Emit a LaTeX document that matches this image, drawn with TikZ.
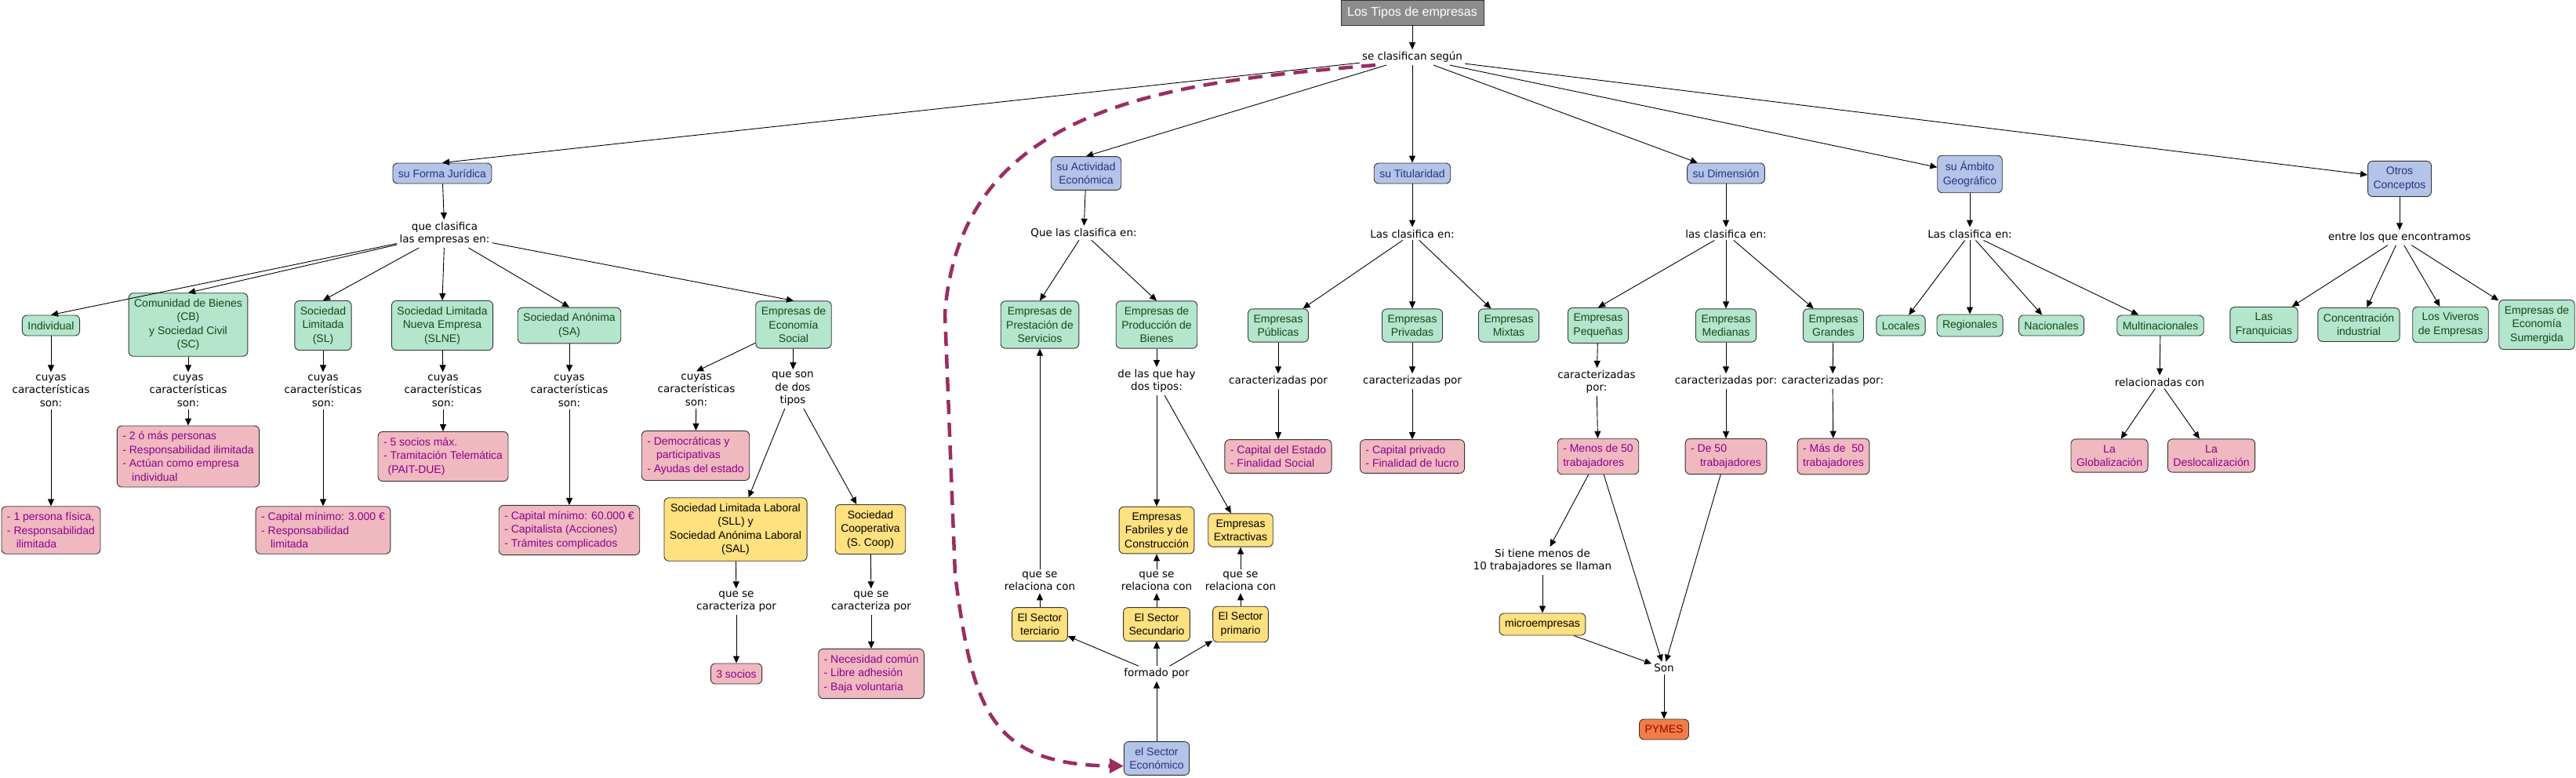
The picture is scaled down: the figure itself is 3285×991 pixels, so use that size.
\documentclass[tikz,border=0pt]{standalone}
\usepackage{fontspec}
\setmainfont{Liberation Sans}
\newfontfamily\lblfont{DejaVu Sans}
\usetikzlibrary{arrows.meta}
\definecolor{azul}{RGB}{180,195,232}
\definecolor{azultxt}{RGB}{38,52,125}
\definecolor{verde}{RGB}{180,229,205}
\definecolor{verdetxt}{RGB}{22,72,22}
\definecolor{rosa}{RGB}{240,185,192}
\definecolor{rosatxt}{RGB}{140,0,140}
\definecolor{amarillo}{RGB}{255,225,128}
\definecolor{naranja}{RGB}{241,125,70}
\definecolor{granate}{RGB}{150,0,0}
\definecolor{gris}{RGB}{140,140,140}
\definecolor{morado}{RGB}{155,45,98}
\tikzset{box/.style={draw=black!80, line width=.9pt, rounded corners=6pt, inner xsep=7pt, inner ysep=7.5pt, minimum height=26pt, align=center, font=\fontsize{14}{17.5}\selectfont}}
\tikzset{cls/.style={box, fill=azul, text=azultxt}}
\tikzset{tipo/.style={box, fill=verde, text=verdetxt}}
\tikzset{carac/.style={box, fill=rosa, text=rosatxt, align=left}}
\tikzset{sub/.style={box, fill=amarillo, text=black}}
\tikzset{pyme/.style={box, fill=naranja, text=granate}}
\tikzset{titulo/.style={draw=black!80, line width=.9pt, fill=gris, text=white, minimum width=182pt, minimum height=32pt, font=\fontsize{16}{19}\selectfont}}
\tikzset{lbl/.style={inner sep=3pt, align=center, font=\lblfont\fontsize{13.5}{16.5}\selectfont}}
\tikzset{arr/.style={-{Triangle[length=9pt,width=8pt]}, line width=.9pt}}
\tikzset{enlace/.style={draw=morado, line width=4.5pt, dash pattern=on 18pt off 11pt, -{Triangle[length=18pt,width=18pt]}}}

\begin{document}
\begin{tikzpicture}[x=1pt,y=-1pt]
  \useasboundingbox (0,0) rectangle (3285,991);
  \node[titulo] (tipos) at (1801,16) {Los Tipos de empresas};
  \node[lbl] (segun) at (1801,73) {se clasifican según};

  \node[cls] (fj) at (564,221) {su Forma Jurídica};
  \node[cls] (ae) at (1385,221) {su Actividad\\Económica};
  \node[cls] (tit) at (1801,221) {su Titularidad};
  \node[cls] (dim) at (2201,221) {su Dimensión};
  \node[cls] (amb) at (2512,222) {su Ámbito\\Geográfico};
  \node[cls] (otros) at (3060,228) {Otros\\Conceptos};

  \draw[arr] (tipos) -- (segun);
  \draw[arr] (segun) -- (fj.north);
  \draw[arr] (segun) -- (ae.north);
  \draw[arr] (segun) -- (tit);
  \draw[arr] (segun) -- (dim);
  \draw[arr] (segun) -- (amb);
  \draw[arr] (segun) -- (otros);

  \node[lbl] (fjl) at (567,298) {que clasifica\\las empresas en:};
  \node[tipo] (ind) at (65,415) {Individual};
  \node[tipo] (cb) at (240,414) {Comunidad de Bienes\\(CB)\\y Sociedad Civil\\(SC)};
  \node[tipo] (sl) at (412,415) {Sociedad\\Limitada\\(SL)};
  \node[tipo] (slne) at (564,415) {Sociedad Limitada\\Nueva Empresa\\(SLNE)};
  \node[tipo] (sa) at (726,415) {Sociedad Anónima\\(SA)};
  \node[tipo] (ees) at (1012,414) {Empresas de\\Economía\\Social};
  \draw[arr] (fj) -- (fjl);
  \foreach \n in {ind,cb,sl,slne,sa,ees}
    \draw[arr] (fjl) -- (\n.north);

  \foreach \n/\x in {ind/65,cb/240,sl/412,slne/565,sa/726}{
    \node[lbl] (c\n) at (\x,498) {cuyas\\características\\son:};
    \draw[arr] (\n) -- (c\n);
  }
  \node[lbl] (cees) at (888,497) {cuyas\\características\\son:};
  \node[lbl] (tees) at (1011,496) {que son\\de dos\\tipos};
  \draw[arr] (ees) -- (cees.north);
  \draw[arr] (ees) -- (tees);

  \node[carac] (pind) at (65,676) {- 1 persona física,\\- Responsabilidad\\\hspace*{.85em}ilimitada};
  \node[carac] (pcb) at (240,582) {- 2 ó más personas\\- Responsabilidad ilimitada\\- Actúan como empresa\\\hspace*{.85em}individual};
  \node[carac] (psl) at (412,676) {- Capital mínimo: 3.000 €\\- Responsabilidad\\\hspace*{.85em}limitada};
  \node[carac] (pslne) at (565,582) {- 5 socios máx.\\- Tramitación Telemática\\\hspace*{.4em}(PAIT-DUE)};
  \node[carac] (psa) at (726,676) {- Capital mínimo: 60.000 €\\- Capitalista (Acciones)\\- Trámites complicados};
  \node[carac] (pees) at (887,581) {- Democráticas y\\\hspace*{.85em}participativas\\- Ayudas del estado};
  \foreach \n in {ind,cb,sl,slne,sa,ees}
    \draw[arr] (c\n) -- (p\n);

  \node[sub] (sll) at (938,675) {Sociedad Limitada Laboral\\(SLL) y\\Sociedad Anónima Laboral\\(SAL)};
  \node[sub] (coop) at (1110,675) {Sociedad\\Cooperativa\\(S. Coop)};
  \node[lbl] (sllc) at (939,767) {que se\\caracteriza por};
  \node[lbl] (coopc) at (1111,767) {que se\\caracteriza por};
  \node[carac] (psll) at (939,859) {3 socios};
  \node[carac] (pcoop) at (1111,859) {- Necesidad común\\- Libre adhesión\\- Baja voluntaria};
  \draw[arr] (tees) -- (sll);
  \draw[arr] (tees) -- (coop);
  \draw[arr] (sll) -- (sllc);
  \draw[arr] (sllc) -- (psll);
  \draw[arr] (coop) -- (coopc);
  \draw[arr] (coopc) -- (pcoop);

  \node[lbl] (ael) at (1382,297) {Que las clasifica en:};
  \node[tipo] (eps) at (1326,414) {Empresas de\\Prestación de\\Servicios};
  \node[tipo] (epb) at (1475,414) {Empresas de\\Producción de\\Bienes};
  \node[lbl] (epbl) at (1475,486) {de las que hay\\dos tipos:};
  \node[sub] (efc) at (1475,676) {Empresas\\Fabriles y de\\Construcción};
  \node[sub] (eex) at (1582,676) {Empresas\\Extractivas};
  \foreach \n/\x in {ter/1326,sec/1475,pri/1582}
    \node[lbl] (r\n) at (\x,741) {que se\\relaciona con};
  \node[sub] (ter) at (1326,796) {El Sector\\terciario};
  \node[sub] (sec) at (1475,796) {El Sector\\Secundario};
  \node[sub] (pri) at (1582,796) {El Sector\\primario};
  \node[lbl] (form) at (1475,859) {formado por};
  \node[cls] (secon) at (1475,967) {el Sector\\Económico};
  \draw[arr] (ae) -- (ael);
  \draw[arr] (ael) -- (eps.north);
  \draw[arr] (ael) -- (epb.north);
  \draw[arr] (epb) -- (epbl);
  \draw[arr] (epbl) -- (efc);
  \draw[arr] (epbl) -- (eex);
  \foreach \n in {ter,sec,pri}{
    \draw[arr] (\n) -- (r\n);
    \draw[arr] (form) -- (\n);
  }
  \draw[arr] (rter) -- (eps);
  \draw[arr] (rsec) -- (efc);
  \draw[arr] (rpri) -- (eex);
  \draw[arr] (secon) -- (form);
  \draw[enlace] ([xshift=-47pt]segun.south) .. controls (1500,105) and (1225,130) .. (1205,400)
    -- (1218,733) .. controls (1240,900) and (1260,975) .. (secon.193);

  \node[lbl] (titl) at (1801,298) {Las clasifica en:};
  \node[tipo] (epu) at (1630,415) {Empresas\\Públicas};
  \node[tipo] (epr) at (1801,415) {Empresas\\Privadas};
  \node[tipo] (emx) at (1924,415) {Empresas\\Mixtas};
  \node[lbl] (epuc) at (1630,486) {caracterizadas por};
  \node[lbl] (eprc) at (1801,486) {caracterizadas por};
  \node[carac] (pepu) at (1630,582) {- Capital del Estado\\- Finalidad Social};
  \node[carac] (pepr) at (1801,582) {- Capital privado\\- Finalidad de lucro};
  \draw[arr] (tit) -- (titl);
  \foreach \n in {epu,epr,emx}
    \draw[arr] (titl) -- (\n);
  \draw[arr] (epu) -- (epuc);
  \draw[arr] (epuc) -- (pepu);
  \draw[arr] (epr) -- (eprc);
  \draw[arr] (eprc) -- (pepr);

  \node[lbl] (diml) at (2201,298) {las clasifica en:};
  \node[tipo] (epq) at (2038,415) {Empresas\\Pequeñas};
  \node[tipo] (eme) at (2201,415) {Empresas\\Medianas};
  \node[tipo] (egr) at (2338,415) {Empresas\\Grandes};
  \node[lbl] (epqc) at (2036,487) {caracterizadas\\por:};
  \node[lbl] (emec) at (2201,486) {caracterizadas por:};
  \node[lbl] (egrc) at (2337,486) {caracterizadas por:};
  \node[carac] (pepq) at (2038,582) {- Menos de 50\\trabajadores};
  \node[carac] (peme) at (2201,582) {- De 50\\\hspace*{.85em}trabajadores};
  \node[carac] (pegr) at (2338,582) {- Más de\ \ 50\\trabajadores};
  \node[lbl] (menos) at (1967,715) {Si tiene menos de\\10 trabajadores se llaman};
  \node[sub] (micro) at (1967,796) {microempresas};
  \node[lbl] (son) at (2122,852) {Son};
  \node[pyme] (pymes) at (2122,930) {PYMES};
  \draw[arr] (dim) -- (diml);
  \draw[arr] (diml) -- (epq.north);
  \draw[arr] (diml) -- (eme);
  \draw[arr] (diml) -- (egr);
  \foreach \n in {epq,eme,egr}{
    \draw[arr] (\n) -- (\n c);
    \draw[arr] (\n c) -- (p\n);
  }
  \draw[arr] (pepq) -- (menos);
  \draw[arr] (menos) -- (micro);
  \draw[arr] (micro) -- (son);
  \draw[arr] (pepq) -- (son);
  \draw[arr] (peme) -- (son);
  \draw[arr] (son) -- (pymes);

  \node[lbl] (ambl) at (2512,298) {Las clasifica en:};
  \node[tipo] (loc) at (2424,415) {Locales};
  \node[tipo] (reg) at (2512,415) {Regionales};
  \node[tipo] (nac) at (2616,415) {Nacionales};
  \node[tipo] (mul) at (2755,415) {Multinacionales};
  \node[lbl] (mull) at (2754,487) {relacionadas con};
  \node[carac, align=center] (glo) at (2690,581) {La\\Globalización};
  \node[carac, align=center] (des) at (2820,581) {La\\Deslocalización};
  \draw[arr] (amb) -- (ambl);
  \foreach \n in {loc,reg,nac,mul}
    \draw[arr] (ambl) -- (\n);
  \draw[arr] (mul) -- (mull);
  \draw[arr] (mull) -- (glo);
  \draw[arr] (mull) -- (des);

  \node[lbl] (otrosl) at (3060,303) {entre los que encontramos};
  \node[tipo] (fra) at (2887,414) {Las\\Franquicias};
  \node[tipo] (con) at (3008,414) {Concentración\\industrial};
  \node[tipo] (viv) at (3125,414) {Los Viveros\\de Empresas};
  \node[tipo] (sum) at (3235,414) {Empresas de\\Economía\\Sumergida};
  \draw[arr] (otros) -- (otrosl);
  \foreach \n in {fra,con,viv,sum}
    \draw[arr] (otrosl) -- (\n);
\end{tikzpicture}
\end{document}
